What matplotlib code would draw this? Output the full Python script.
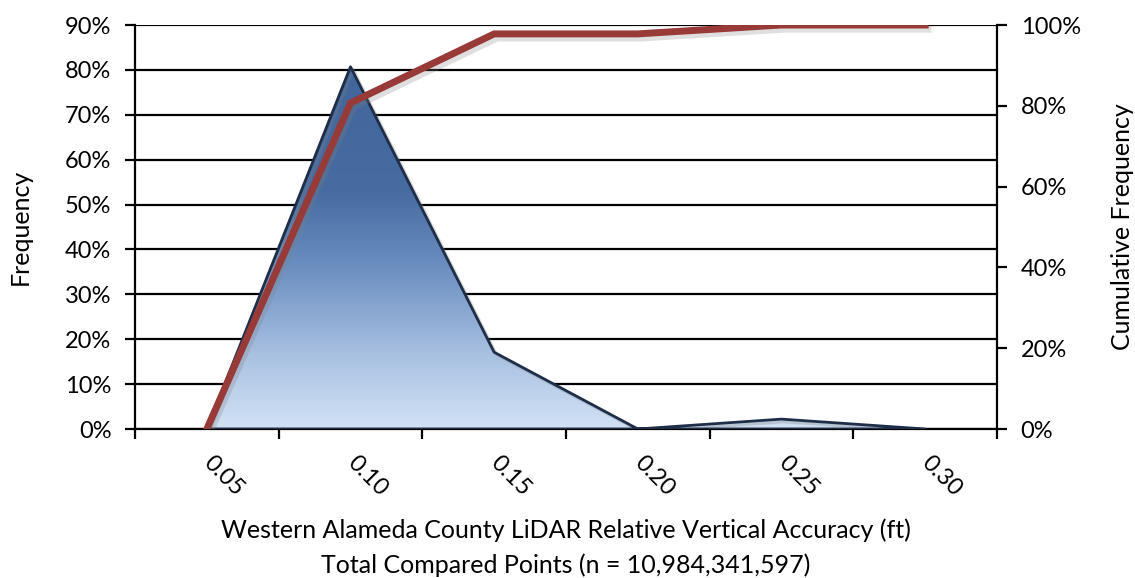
import numpy as np
import matplotlib
matplotlib.use("Agg")
import matplotlib.pyplot as plt
from matplotlib.colors import LinearSegmentedColormap
from matplotlib.ticker import FuncFormatter, FixedLocator
import matplotlib.patheffects as pe

plt.rcParams['font.family'] = ['Lato', 'DejaVu Sans']

# data
categories = ["0.05", "0.10", "0.15", "0.20", "0.25", "0.30"]
frequency = [0.0, 0.807, 0.171, 0.0, 0.022, 0.0]
cumulative = [0.0, 0.807, 0.978, 0.978, 1.0, 1.0]
left_ticks = [0.0, 0.1, 0.2, 0.3, 0.4, 0.5, 0.6, 0.7, 0.8, 0.9]
right_ticks = [0.0, 0.2, 0.4, 0.6, 0.8, 1.0]

x = np.arange(len(categories))

fig = plt.figure(figsize=(11.35, 5.78), dpi=100)
ax = fig.add_axes([135 / 1135, 1 - 429 / 578, (997 - 135) / 1135, (429 - 25) / 578])

# gridlines
for t in left_ticks:
    ax.axhline(t, color='black', lw=1.6, zorder=1)

# area with vertical gradient
poly = ax.fill_between(x, frequency, 0, facecolor='none', edgecolor='#1e2d48', lw=2.0, zorder=3,
                       path_effects=[pe.SimpleLineShadow(offset=(2, -2), shadow_color='gray', alpha=0.3), pe.Normal()])
cmap = LinearSegmentedColormap.from_list('blues', [(0.0, '#d2e2f5'), (0.2, '#a9c1e2'), (0.45, '#6a8ec0'),
                                                   (0.65, '#476ca1'), (1.0, '#41669b')])
grad = np.linspace(0, 1, 256).reshape(-1, 1)
img = ax.imshow(grad, cmap=cmap, aspect='auto', origin='lower',
                extent=[x[0], x[-1], 0, max(frequency)], zorder=2)
img.set_clip_path(poly.get_paths()[0], transform=ax.transData)

ax.set_xlim(-0.5, len(categories) - 0.5)
ax.set_ylim(0, 0.9)
ax.set_yticks(left_ticks)
ax.yaxis.set_major_formatter(FuncFormatter(lambda v, p: "{:.0f}%".format(v * 100)))

# category axis: ticks on boundaries, labels at centers
ax.xaxis.set_major_locator(FixedLocator(np.arange(-0.5, len(categories), 1.0)))
ax.xaxis.set_minor_locator(FixedLocator(x))
ax.set_xticklabels([])
ax.set_xticklabels(categories, minor=True)
ax.tick_params(axis='x', which='major', length=7, width=1.6, direction='out')
ax.tick_params(axis='x', which='minor', length=0, pad=22, labelsize=17)
for lbl in ax.get_xticklabels(minor=True):
    lbl.set_rotation(-45)
    lbl.set_rotation_mode('anchor')
    lbl.set_ha('left')
    lbl.set_va('center')
ax.tick_params(axis='y', length=7, width=1.6, direction='out', labelsize=17, pad=10)

for s in ['left', 'bottom']:
    ax.spines[s].set_linewidth(1.6)
ax.spines['top'].set_visible(False)
ax.spines['right'].set_visible(False)

ax.set_ylabel("Frequency", fontsize=18, labelpad=24)
ax.set_xlabel("Western Alameda County LiDAR Relative Vertical Accuracy (ft)\nTotal Compared Points (n = 10,984,341,597)",
              fontsize=18, labelpad=13, linespacing=1.6)

# cumulative line on secondary axis
ax2 = ax.twinx()
ax2.plot(x, cumulative, color='#983a37', lw=5, solid_joinstyle='miter', zorder=5,
         path_effects=[pe.SimpleLineShadow(offset=(2, -3), shadow_color='gray', alpha=0.25), pe.Normal()])
ax2.set_ylim(0, 1.0)
ax2.set_yticks(right_ticks)
ax2.yaxis.set_major_formatter(FuncFormatter(lambda v, p: "{:.0f}%".format(v * 100)))
ax2.tick_params(axis='y', length=7, width=1.6, direction='out', labelsize=17, pad=10)
for s in ['left', 'bottom', 'top']:
    ax2.spines[s].set_visible(False)
ax2.spines['right'].set_linewidth(1.6)
ax2.set_ylabel("Cumulative Frequency", fontsize=18, labelpad=22)

fig.savefig("out.png", dpi=100, facecolor='white')
